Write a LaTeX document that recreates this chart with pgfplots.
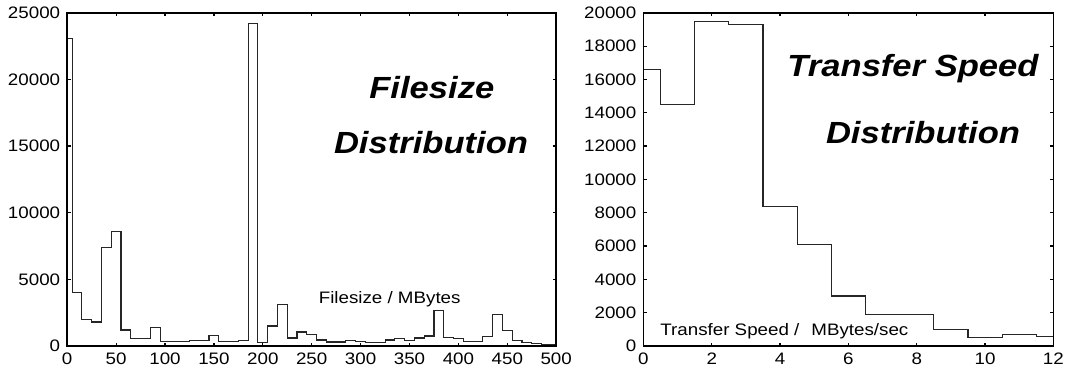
\documentclass[border=0pt]{standalone}
\usepackage{fontspec}
\setmainfont{Liberation Sans}[FakeStretch=1.13]
\usepackage{pgfplots}
\pgfplotsset{compat=1.18}
\begin{document}
\begin{tikzpicture}
\path[use as bounding box] (0,0) rectangle (533.5pt,187pt);
\pgfplotsset{
  every axis/.append style={
    scale only axis,
    anchor=south west,
    axis line style={line width=0.9pt},
    tick align=inside,
    major tick length=1.7pt,
    every tick/.style={black,line width=0.6pt},
    tick label style={font=\fontsize{8.3}{10}\selectfont},
    /pgf/number format/assume math mode=true,
    /pgf/number format/set thousands separator={},
    scaled ticks=false,
    ymin=0,
    axis on top,
  }
}
% Left: filesize distribution
\begin{axis}[
  at={(33.6pt,14pt)},
  width=244.5pt, height=166.6pt,
  xmin=0, xmax=500, ymax=25000,
  xtick={0,50,...,500},
  ytick={0,5000,...,25000},
]
\addplot[const plot mark left, black!85, line width=0.55pt] coordinates {
(0,0) (0,23100) (5,4000) (15,2000) (25,1800) (35,7400) (45,8600) (55,1200)
(65,550) (75,550) (85,1380) (95,350) (105,350) (115,350) (125,430) (135,430)
(145,780) (155,350) (165,350) (175,430) (185,24200) (195,280) (205,1500)
(215,3100) (225,600) (235,1050) (245,830) (255,450) (265,300) (275,300)
(285,430) (295,350) (305,280) (315,280) (325,450) (335,550) (345,430)
(355,600) (365,750) (375,2650) (385,630) (395,550) (405,350) (415,350)
(425,730) (435,2330) (445,1150) (455,380) (465,280) (475,200) (485,100) (500,100)
};
\end{axis}
% Right: transfer speed distribution
\begin{axis}[
  at={(321.7pt,14pt)},
  width=205pt, height=166.6pt,
  xmin=0, xmax=12, ymax=20000,
  xtick={0,2,...,12},
  ytick={0,2000,...,20000},
]
\addplot[const plot mark left, black!85, line width=0.55pt] coordinates {
(0,16600) (0.5,14500) (1.5,19500) (2.5,19300) (3.5,8400) (4.5,6100)
(5.5,3000) (6.5,1900) (7.5,1900) (8.5,1000) (9.5,500) (10.5,700) (11.5,550) (12,550)
};
\end{axis}
% titles and labels
\node[anchor=base, font=\fontsize{15.3}{18}\selectfont\bfseries\itshape, inner sep=0pt] at (215.9pt,137.8pt) {Filesize};
\node[anchor=base, font=\fontsize{15.3}{18}\selectfont\bfseries\itshape, inner sep=0pt] at (215.5pt,110pt) {Distribution};
\node[anchor=base, font=\fontsize{15.3}{18}\selectfont\bfseries\itshape, inner sep=0pt] at (456.5pt,148.7pt) {Transfer Speed};
\node[anchor=base, font=\fontsize{15.3}{18}\selectfont\bfseries\itshape, inner sep=0pt] at (461.5pt,115.3pt) {Distribution};
\node[anchor=base west, font=\fontsize{8.3}{10}\selectfont, inner sep=0pt] at (159.2pt,35.4pt) {Filesize / MBytes};
\node[anchor=base west, font=\fontsize{8.3}{10}\selectfont, inner sep=0pt] at (330pt,19.2pt) {Transfer Speed /\hspace{6pt}MBytes/sec};
\end{tikzpicture}
\end{document}
